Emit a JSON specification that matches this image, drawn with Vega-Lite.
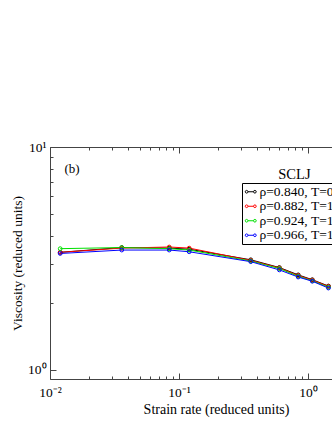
{
  "$schema": "https://vega.github.io/schema/vega-lite/v6.json",
  "width": 282,
  "height": 232,
  "autosize": {"type": "none"},
  "padding": {"left": 50, "top": 147, "right": 0, "bottom": 51},
  "background": "white",
  "config": {"view": {"stroke": null}, "font": "Liberation Serif"},
  "datasets": {
    "visc": [
      {"rate": 0.012, "eta": 3.37, "series": "ρ=0.840, T=0.90"},
      {"rate": 0.036, "eta": 3.54, "series": "ρ=0.840, T=0.90"},
      {"rate": 0.084, "eta": 3.52, "series": "ρ=0.840, T=0.90"},
      {"rate": 0.12, "eta": 3.48, "series": "ρ=0.840, T=0.90"},
      {"rate": 0.36, "eta": 3.12, "series": "ρ=0.840, T=0.90"},
      {"rate": 0.6, "eta": 2.88, "series": "ρ=0.840, T=0.90"},
      {"rate": 0.84, "eta": 2.67, "series": "ρ=0.840, T=0.90"},
      {"rate": 1.08, "eta": 2.54, "series": "ρ=0.840, T=0.90"},
      {"rate": 1.44, "eta": 2.38, "series": "ρ=0.840, T=0.90"},
      {"rate": 0.012, "eta": 3.37, "series": "ρ=0.882, T=1.10"},
      {"rate": 0.036, "eta": 3.52, "series": "ρ=0.882, T=1.10"},
      {"rate": 0.084, "eta": 3.56, "series": "ρ=0.882, T=1.10"},
      {"rate": 0.12, "eta": 3.52, "series": "ρ=0.882, T=1.10"},
      {"rate": 0.36, "eta": 3.10, "series": "ρ=0.882, T=1.10"},
      {"rate": 0.6, "eta": 2.87, "series": "ρ=0.882, T=1.10"},
      {"rate": 0.84, "eta": 2.65, "series": "ρ=0.882, T=1.10"},
      {"rate": 1.08, "eta": 2.53, "series": "ρ=0.882, T=1.10"},
      {"rate": 1.44, "eta": 2.37, "series": "ρ=0.882, T=1.10"},
      {"rate": 0.012, "eta": 3.50, "series": "ρ=0.924, T=1.30"},
      {"rate": 0.036, "eta": 3.54, "series": "ρ=0.924, T=1.30"},
      {"rate": 0.084, "eta": 3.50, "series": "ρ=0.924, T=1.30"},
      {"rate": 0.12, "eta": 3.45, "series": "ρ=0.924, T=1.30"},
      {"rate": 0.36, "eta": 3.08, "series": "ρ=0.924, T=1.30"},
      {"rate": 0.6, "eta": 2.85, "series": "ρ=0.924, T=1.30"},
      {"rate": 0.84, "eta": 2.63, "series": "ρ=0.924, T=1.30"},
      {"rate": 1.08, "eta": 2.51, "series": "ρ=0.924, T=1.30"},
      {"rate": 1.44, "eta": 2.35, "series": "ρ=0.924, T=1.30"},
      {"rate": 0.012, "eta": 3.33, "series": "ρ=0.966, T=1.50"},
      {"rate": 0.036, "eta": 3.45, "series": "ρ=0.966, T=1.50"},
      {"rate": 0.084, "eta": 3.45, "series": "ρ=0.966, T=1.50"},
      {"rate": 0.12, "eta": 3.39, "series": "ρ=0.966, T=1.50"},
      {"rate": 0.36, "eta": 3.06, "series": "ρ=0.966, T=1.50"},
      {"rate": 0.6, "eta": 2.81, "series": "ρ=0.966, T=1.50"},
      {"rate": 0.84, "eta": 2.61, "series": "ρ=0.966, T=1.50"},
      {"rate": 1.08, "eta": 2.50, "series": "ρ=0.966, T=1.50"},
      {"rate": 1.44, "eta": 2.33, "series": "ρ=0.966, T=1.50"}
    ],
    "labels": [
      {"label": "(b)", "lx": 0.0148, "ly": 7.97},
      {"label": "SCLJ", "lx": 0.785, "ly": 7.5}
    ]
  },
  "layer": [
    {
      "data": {"name": "visc"},
      "mark": {"type": "line", "strokeWidth": 1, "clip": true, "point": {"filled": false, "size": 14, "strokeWidth": 1}},
      "encoding": {
        "x": {
          "field": "rate", "type": "quantitative",
          "scale": {"type": "log", "domain": [0.01, 1.535], "nice": false},
          "axis": {
            "orient": "bottom",
            "values": [0.01, 0.02, 0.03, 0.04, 0.05, 0.06, 0.07, 0.08, 0.09, 0.1, 0.2, 0.3, 0.4, 0.5, 0.6, 0.7, 0.8, 0.9, 1],
            "tickSize": {"condition": {"test": "indexof([0.01,0.1,1], datum.value) >= 0", "value": -6}, "value": -3},
            "labelExpr": "datum.value == 0.01 ? '10⁻²' : datum.value == 0.1 ? '10⁻¹' : datum.value == 1 ? '10⁰' : ''",
            "title": "Strain rate (reduced units)", "titleX": 166, "titleY": 23, "titleBaseline": "top",
            "titleFont": "Liberation Serif", "titleFontSize": 14, "titleFontWeight": "normal", "titleColor": "#000",
            "labelFont": "Liberation Serif", "labelFontSize": 13.5, "labelColor": "#000",
            "domainColor": "#444", "tickColor": "#444", "grid": false,
            "labelPadding": 12.5, "labelFlush": false, "labelOverlap": false
          }
        },
        "y": {
          "field": "eta", "type": "quantitative",
          "scale": {"type": "log", "domain": [0.911, 10], "nice": false},
          "axis": {
            "orient": "left",
            "values": [1, 2, 3, 4, 5, 6, 7, 8, 9, 10],
            "tickSize": {"condition": {"test": "indexof([1,10], datum.value) >= 0", "value": -6}, "value": -3},
            "labelExpr": "datum.value == 1 ? '10⁰' : datum.value == 10 ? '10¹' : ''",
            "title": "Viscosity (reduced units)",
            "titleFont": "Liberation Serif", "titleFontSize": 13.5, "titleFontWeight": "normal", "titleColor": "#000",
            "labelFont": "Liberation Serif", "labelFontSize": 13.5, "labelColor": "#000",
            "domainColor": "#444", "tickColor": "#444", "grid": false,
            "labelPadding": 10, "titlePadding": 3, "labelFlush": false, "labelOverlap": false
          }
        },
        "color": {
          "field": "series", "type": "nominal",
          "scale": {"domain": ["ρ=0.840, T=0.90", "ρ=0.882, T=1.10", "ρ=0.924, T=1.30", "ρ=0.966, T=1.50"], "range": ["#000000", "#ff0000", "#00e000", "#0000ff"]},
          "legend": {
            "title": null, "orient": "none", "legendX": 192, "legendY": 36,
            "strokeColor": "#000", "fillColor": "white", "padding": 2,
            "symbolType": "M-1,0A0.25,0.25,0,1,1,-0.5,0A0.25,0.25,0,1,1,-1,0M-0.5,0L0.5,0M0.5,0A0.25,0.25,0,1,1,1,0A0.25,0.25,0,1,1,0.5,0",
            "symbolSize": 121, "symbolStrokeWidth": 1, "symbolFillColor": "transparent",
            "labelFont": "Liberation Serif", "labelFontSize": 13.5, "labelColor": "#000", "labelOffset": 2, "rowPadding": -0.5, "labelLimit": 300
          }
        }
      }
    },
    {
      "data": {"name": "visc"},
      "mark": {"type": "line", "opacity": 0},
      "encoding": {
        "x": {
          "field": "rate", "type": "quantitative",
          "axis": {
            "orient": "top",
            "values": [0.01, 0.02, 0.03, 0.04, 0.05, 0.06, 0.07, 0.08, 0.09, 0.1, 0.2, 0.3, 0.4, 0.5, 0.6, 0.7, 0.8, 0.9, 1],
            "tickSize": {"condition": {"test": "indexof([0.01,0.1,1], datum.value) >= 0", "value": -6}, "value": -3},
            "labels": false, "title": null, "grid": false,
            "domainColor": "#444", "tickColor": "#444"
          }
        },
        "y": {"field": "eta", "type": "quantitative", "axis": null}
      }
    },
    {
      "data": {"name": "labels"},
      "transform": [{"filter": "datum.label == '(b)'"}],
      "mark": {"type": "text", "font": "Liberation Serif", "fontSize": 13, "color": "#000"},
      "encoding": {
        "x": {"field": "lx", "type": "quantitative", "axis": null},
        "y": {"field": "ly", "type": "quantitative", "axis": null},
        "text": {"field": "label"}
      }
    },
    {
      "data": {"name": "labels"},
      "transform": [{"filter": "datum.label == 'SCLJ'"}],
      "mark": {"type": "text", "font": "Liberation Serif", "fontSize": 14.5, "color": "#000"},
      "encoding": {
        "x": {"field": "lx", "type": "quantitative", "axis": null},
        "y": {"field": "ly", "type": "quantitative", "axis": null},
        "text": {"field": "label"}
      }
    }
  ],
  "resolve": {"axis": {"x": "independent", "y": "independent"}}
}
